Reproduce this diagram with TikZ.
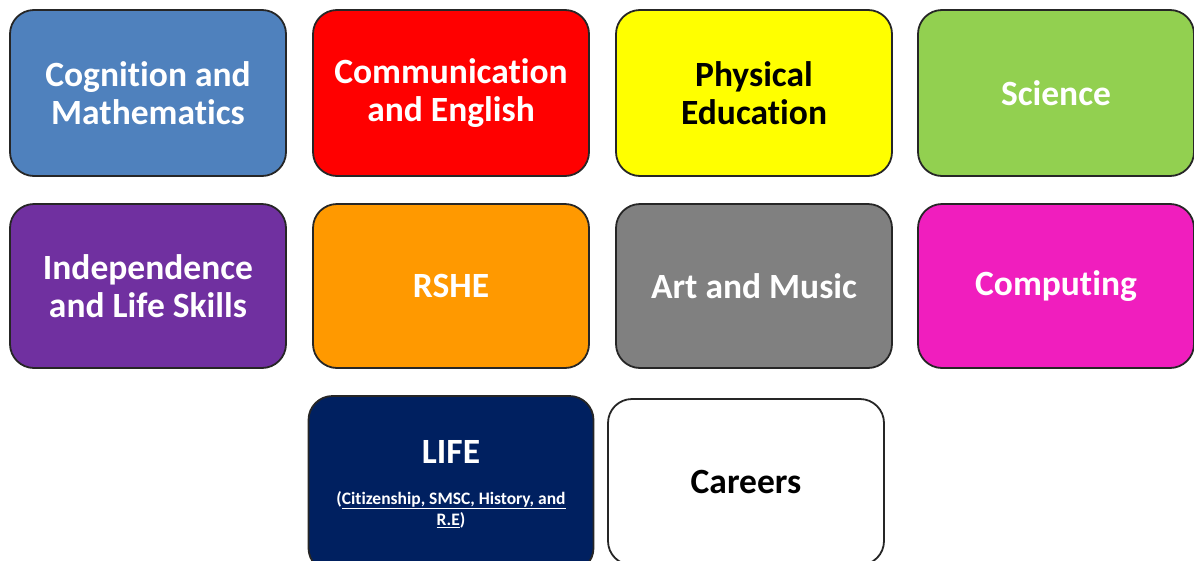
\documentclass[tikz,border=0pt]{standalone}
\usepackage{fontspec}
\setmainfont{Carlito}[Ligatures=NoCommon]
\usetikzlibrary{calc}
\usetikzlibrary{positioning}
\definecolor{mathsblue}{HTML}{4F81BD}
\definecolor{engred}{HTML}{FF0000}
\definecolor{peyellow}{HTML}{FFFF00}
\definecolor{scigreen}{HTML}{92D050}
\definecolor{indpurple}{HTML}{7030A0}
\definecolor{rsheorange}{HTML}{FF9900}
\definecolor{artgrey}{HTML}{808080}
\definecolor{compmagenta}{HTML}{F01EBE}
\definecolor{lifenavy}{HTML}{002060}
\tikzstyle{subjbox} = [draw=black!85, line width=1.8pt, rounded corners=24pt, minimum width=276pt, minimum height=166pt, inner sep=0pt, align=center, text=white, font=\fontsize{35.5}{38}\selectfont\bfseries]
\tikzstyle{darktext} = [text=black]
\newcommand{\lifesubfont}{\fontsize{17.5}{21}\selectfont\bfseries}

\begin{document}
\begin{tikzpicture}[x=1pt, y=-1pt]
    \useasboundingbox (0,0) rectangle (1194,560);
    \clip (0,0) rectangle (1194,560);

    \node[subjbox, fill=mathsblue] (maths) at (148,93) {Cognition and\\Mathematics};
    \node[subjbox, fill=engred] (english) at ($(maths)+(303,0)$) {Communication\\and English};
    \node[subjbox, fill=peyellow, darktext] (pe) at ($(english)+(303,0)$) {Physical\\Education};
    \node[subjbox, fill=scigreen] (science) at ($(pe)+(302,0)$) {Science};

    \node[subjbox, fill=indpurple, minimum height=164pt] (independence) at ($(maths)+(0,193)$) {Independence\\and Life Skills};
    \node[subjbox, fill=rsheorange, minimum height=164pt] (rshe) at ($(independence)+(303,0)$) {RSHE};
    \node[subjbox, fill=artgrey, minimum height=164pt] (art) at ($(rshe)+(303,0)$) {Art and Music};
    \node[subjbox, fill=compmagenta, minimum height=164pt] (computing) at ($(art)+(302,0)$) {Computing};

    \node[subjbox, fill=lifenavy, minimum width=285pt, minimum height=176pt] (life) at ($(rshe)+(0,198)$)
        {LIFE\\[3pt]\lifesubfont (\underline{Citizenship, SMSC, History, and}\\[-17pt]\lifesubfont \underline{R.E})};
    \node[subjbox, fill=white, darktext] (careers) at ($(art)+(-8,196)$) {Careers};
\end{tikzpicture}
\end{document}
